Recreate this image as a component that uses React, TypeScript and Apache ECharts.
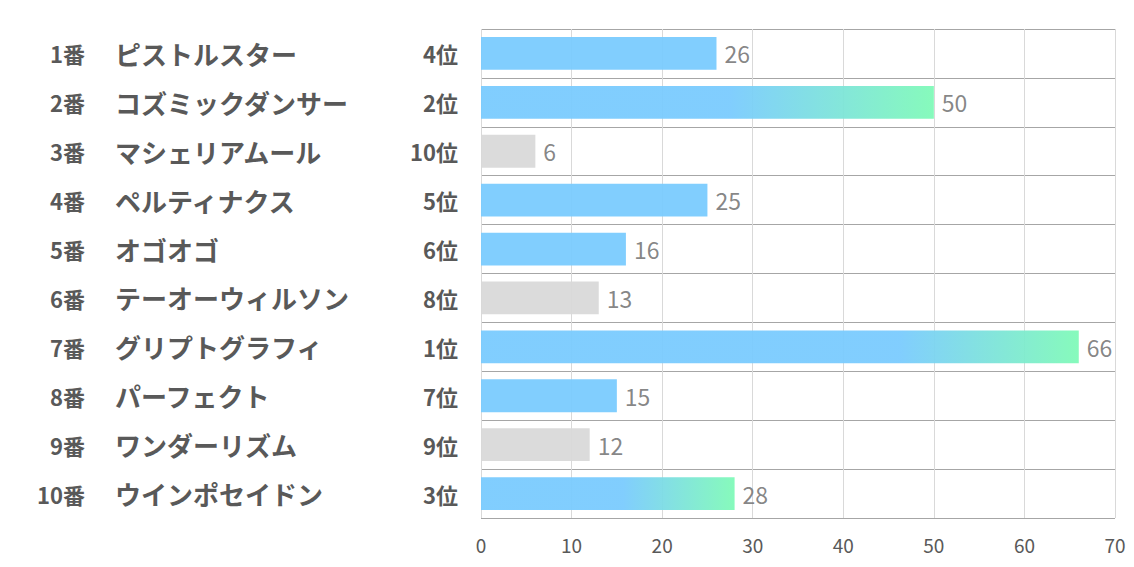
import React, { useEffect, useRef } from "react";
import * as echarts from "echarts";

const numbers = ["1番", "2番", "3番", "4番", "5番", "6番", "7番", "8番", "9番", "10番"];
const horses = [
  "ピストルスター",
  "コズミックダンサー",
  "マシェリアムール",
  "ペルティナクス",
  "オゴオゴ",
  "テーオーウィルソン",
  "グリプトグラフィ",
  "パーフェクト",
  "ワンダーリズム",
  "ウインポセイドン",
];
const ranks = ["4位", "2位", "10位", "5位", "6位", "8位", "1位", "7位", "9位", "3位"];
const rankNums = [4, 2, 10, 5, 6, 8, 1, 7, 9, 3];
const values = [26, 50, 6, 25, 16, 13, 66, 15, 12, 28];
const xTicks = [0, 10, 20, 30, 40, 50, 60, 70];

const BLUE = "#7acbfe";
const GREEN = "#80fab8";
const GRAY = "#d9d9d9";
const gradStart: Record<number, number> = { 1: 0.7, 2: 0.55, 3: 0.56 };

function barColor(rank: number) {
  if (rank <= 3) {
    return {
      type: "linear",
      x: 0,
      y: 0,
      x2: 1,
      y2: 0,
      colorStops: [
        { offset: 0, color: BLUE },
        { offset: gradStart[rank], color: BLUE },
        { offset: 1, color: GREEN },
      ],
    };
  }
  if (rank <= 7) return BLUE;
  return GRAY;
}

export default function App() {
  const ref = useRef<HTMLDivElement>(null);
  useEffect(() => {
    if (!ref.current) return;
    const chart = echarts.init(ref.current, undefined, { renderer: "svg" });
    const font = "'Noto Sans CJK JP', 'Noto Sans', sans-serif";
    const catAxisBase = {
      type: "category" as const,
      inverse: true,
      axisTick: { show: false },
      axisLine: { show: false },
      position: "left" as const,
    };
    chart.setOption({
      animation: false,
      grid: { left: 481, right: 19, top: 29, bottom: 49, containLabel: false },
      xAxis: {
        type: "value",
        min: 0,
        max: 70,
        interval: 10,
        axisLine: { show: false },
        axisTick: { show: false },
        splitLine: { show: true, lineStyle: { color: "#d9d9d9", width: 1 } },
        axisLabel: {
          color: "#595959",
          fontSize: 19,
          fontFamily: font,
          margin: 17,
          formatter: (v: number) => (xTicks.includes(v) ? String(v) : ""),
        },
      },
      yAxis: [
        {
          ...catAxisBase,
          data: ranks,
          splitLine: { show: true, lineStyle: { color: "#a6a6a6", width: 1 } },
          axisLabel: {
            color: "#595959",
            fontSize: 22,
            fontWeight: "bold",
            fontFamily: font,
            margin: 23,
            align: "right",
          },
        },
        {
          ...catAxisBase,
          data: horses,
          splitLine: { show: false },
          axisLabel: {
            color: "#595959",
            fontSize: 26,
            fontWeight: "bold",
            fontFamily: font,
            margin: 366,
            align: "left",
          },
        },
        {
          ...catAxisBase,
          data: numbers,
          splitLine: { show: false },
          axisLabel: {
            color: "#595959",
            fontSize: 22,
            fontWeight: "bold",
            fontFamily: font,
            margin: 396,
            align: "right",
          },
        },
      ],
      series: [
        {
          type: "bar",
          yAxisIndex: 0,
          barWidth: "67%",
          data: values.map((v, i) => ({
            value: v,
            itemStyle: { color: barColor(rankNums[i]), opacity: 0.95 },
          })),
          label: {
            show: true,
            position: "right",
            distance: 8,
            color: "#7f7f7f",
            fontSize: 23,
            fontFamily: font,
          },
        },
      ],
    });
    return () => chart.dispose();
  }, []);
  return <div ref={ref} style={{ width: 1134, height: 567, position: "absolute", left: 0, top: 0 }} />;
}
